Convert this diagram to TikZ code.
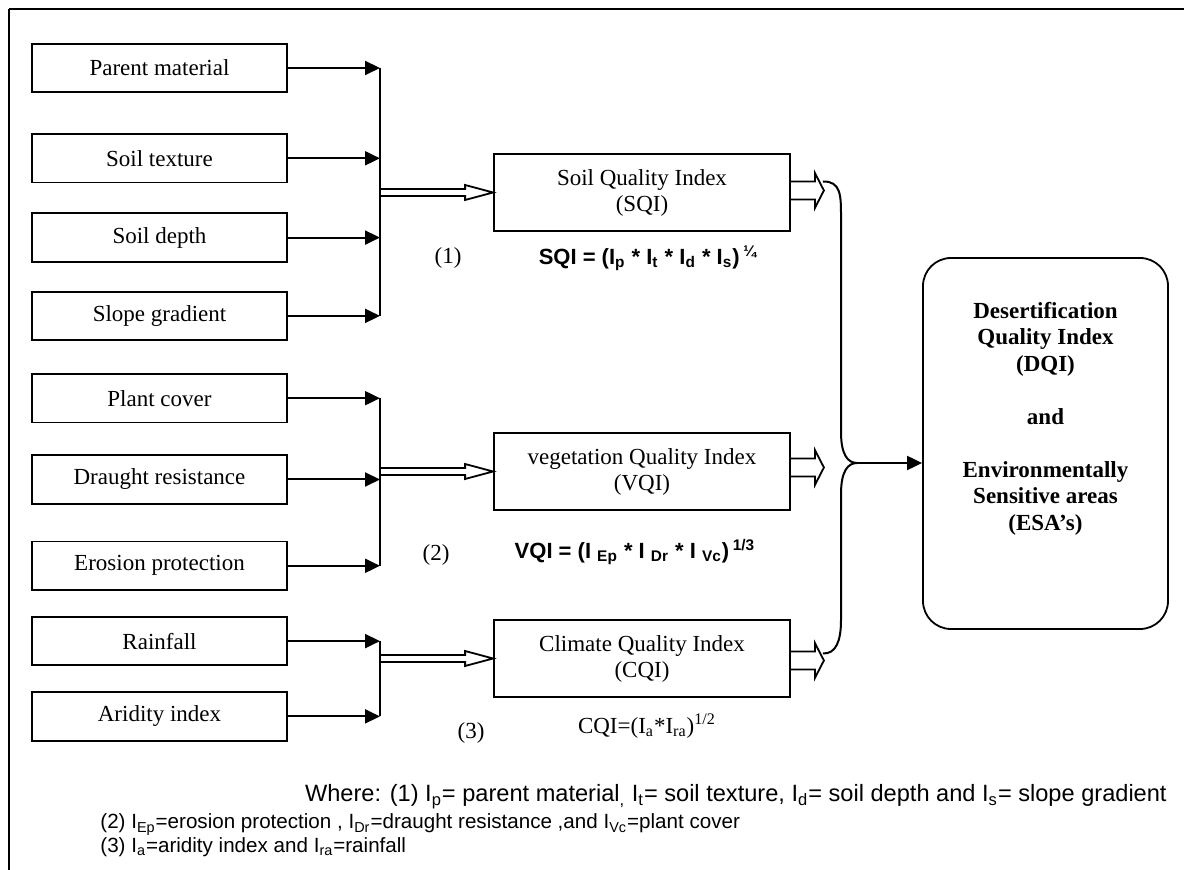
\documentclass[tikz,border=0pt]{standalone}
\usepackage{fontspec}
\setmainfont{Liberation Serif}
\setsansfont{Liberation Sans}
\usetikzlibrary{arrows.meta,positioning,calc}
\tikzset{
  factor/.style={rectangle, draw, line width=0.9pt, inner sep=0pt,
                 minimum width=127.5pt, minimum height=24.25pt,
                 font=\fontsize{11.5}{13}\selectfont},
  index/.style={factor, align=center, minimum width=148pt, minimum height=38.5pt},
  result/.style={rectangle, rounded corners=14pt, draw, line width=0.9pt,
                 minimum width=122.5pt, minimum height=185.5pt},
  resulttext/.style={align=center, inner sep=0pt,
                 font=\bfseries\fontsize{11.5}{13.25}\selectfont},
  feed/.style={-{Triangle[length=7.5pt,width=7pt]}, line width=1pt},
  bar/.style={line width=1pt},
  hollow/.style={line width=0.9pt, line join=miter},
  formula/.style={inner sep=0pt, font=\sffamily\bfseries\fontsize{11}{13}\selectfont},
  tag/.style={inner sep=0pt, font=\fontsize{11.5}{13}\selectfont},
  note/.style={inner sep=0pt, font=\sffamily\fontsize{10.3}{12}\selectfont},
}
% open block arrow: from, to, half shaft, half head, head length
\newcommand\hollowarrow[5]{%
  \draw[hollow] let \p1=(#1), \p2=(#2) in
    (\x1,\y2+#3) -- (\x2-#5,\y2+#3) -- (\x2-#5,\y2+#4) -- (\x2,\y2)
    -- (\x2-#5,\y2-#4) -- (\x2-#5,\y2-#3) -- (\x1,\y2-#3);}

\begin{document}
\begin{tikzpicture}[x=0.5pt, y=-0.5pt]
  \useasboundingbox (0,0) rectangle (1184,870);
  % frame
  \draw[line width=1.1pt] (9,9) -- (1184,9);
  \draw[line width=0.6pt] (9,9) -- (9,870);

  % factors
  \node[factor] (pm) at (159.5,68) {Parent material};
  \node[factor, below=20pt of pm] (st) {Soil texture};
  \node[factor, below=14.5pt of st] (sd) {Soil depth};
  \node[factor, below=14pt of sd] (sg) {Slope gradient};
  \node[factor, below=16pt of sg] (pc) {Plant cover};
  \node[factor, below=15.5pt of pc] (dr) {Draught resistance};
  \node[factor, below=18pt of dr] (ep) {Erosion protection};
  \node[factor, below=12.5pt of ep] (rf) {Rainfall};
  \node[factor, below=12.5pt of rf] (ai) {Aridity index};

  % indices
  \node[index] (sqi) at (642,192.5) {Soil Quality Index\\(SQI)};
  \node[index] (vqi) at (642,471.5) {vegetation Quality Index\\(VQI)};
  \node[index] (cqi) at (642,658.5) {Climate Quality Index\\(CQI)};
  \node[result] (dqi) at (1045.5,443.5) {};
  \node[resulttext] (dqit) at (1045.5,418.5)
    {Desertification\\Quality Index\\(DQI)\\[13.25pt]and\\[13.25pt]Environmentally\\Sensitive areas\\(ESA’s)};

  % feeding arrows and bars
  \coordinate (bx) at (380,0);
  \foreach \f in {pm,st,sd,sg,pc,dr,ep,rf,ai}
    \draw[feed] (\f.east) -- (\f.east -| bx);
  \draw[bar] (pm.east -| bx) -- (sg.east -| bx);
  \draw[bar] (pc.east -| bx) -- (ep.east -| bx);
  \draw[bar] (rf.east -| bx) -- (ai.east -| bx);

  \hollowarrow{sqi.west -| bx}{sqi.west}{1.75pt}{3.75pt}{14pt}
  \hollowarrow{vqi.west -| bx}{vqi.west}{1.75pt}{3.75pt}{14pt}
  \hollowarrow{cqi.west -| bx}{cqi.west}{1.75pt}{3.75pt}{14pt}

  \coordinate (so) at ($(sqi.east)+(33,-2)$);
  \coordinate (vo) at ($(vqi.east)+(33,-4)$);
  \coordinate (co) at ($(cqi.east)+(33,2)$);
  \hollowarrow{sqi.east}{so}{4.5pt}{8.75pt}{4.5pt}
  \hollowarrow{vqi.east}{vo}{4.5pt}{8.75pt}{4.5pt}
  \hollowarrow{cqi.east}{co}{4.5pt}{8.75pt}{4.5pt}

  % brace to DQI
  \coordinate (cusp) at (857,463);
  \draw[bar] ($(so)+(-1,-9)$) .. controls (841,181) and (841,196) .. (841,216)
    -- (841,432) .. controls (841,455) and (848,463) .. (cusp)
    .. controls (848,463) and (841,471) .. (841,494)
    -- (841,620) .. controls (841,641) and (836,654) .. ($(co)+(-1,-7)$);
  \draw[feed] (cusp) -- (cusp -| dqi.west);

  % formulas
  \node[tag] (l1) at (448,258) {(1)};
  \node[formula] (fs) at (648,258)
    {SQI = (I\textsubscript{p} * I\textsubscript{t} * I\textsubscript{d} * I\textsubscript{s})\,\textsuperscript{¼}};
  \node[tag] (l2) at (436,555) {(2)};
  \node[formula] (fv) at (635,552)
    {VQI = (I \textsubscript{Ep} * I \textsubscript{Dr} * I \textsubscript{Vc})\,\textsuperscript{1/3}};
  \node[tag] (l3) at (471,733) {(3)};
  \node[tag] (fc) at (647,726)
    {CQI=(I\textsubscript{a}*I\textsubscript{ra})\textsuperscript{1/2}};

  % key
  \node[note, anchor=base east, font=\sffamily\fontsize{11.8}{13}\selectfont] (k1) at (1167,802)
    {Where: (1) I\textsubscript{p}= parent material\textsubscript{,} I\textsubscript{t}= soil texture, I\textsubscript{d}= soil depth and I\textsubscript{s}= slope gradient};
  \node[note, anchor=base west] (k2) at (100,829)
    {(2) I\textsubscript{Ep}=erosion protection , I\textsubscript{Dr}=draught resistance ,and I\textsubscript{Vc}=plant cover};
  \node[note, anchor=base west] (k3) at (100,853)
    {(3) I\textsubscript{a}=aridity index and I\textsubscript{ra}=rainfall};
\end{tikzpicture}
\end{document}
